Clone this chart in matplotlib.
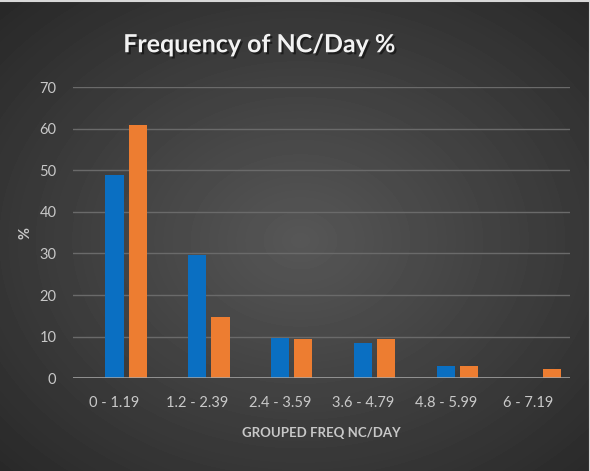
import numpy as np
import matplotlib
matplotlib.use("Agg")
import matplotlib.pyplot as plt
import matplotlib.patheffects as pe

categories = ["0 - 1.19", "1.2 - 2.39", "2.4 - 3.59", "3.6 - 4.79", "4.8 - 5.99", "6 - 7.19"]
blue_vals = [48.8, 29.7, 9.6, 8.5, 3.0, 0.0]
orange_vals = [61.0, 14.7, 9.4, 9.5, 3.0, 2.1]
y_ticks = [0, 10, 20, 30, 40, 50, 60, 70]

plt.rcParams['font.family'] = ['Lato', 'DejaVu Sans']

fig = plt.figure(figsize=(5.9, 4.71), dpi=100)

# radial gradient background
bg = fig.add_axes([0, 0, 1, 1])
yy, xx = np.mgrid[0:471, 0:590]
r = np.sqrt(((xx - 300) / 420.0) ** 2 + ((yy - 240) / 330.0) ** 2)
shade = np.clip(0.34 - 0.18 * r, 0.12, 0.36)
bg.imshow(shade, cmap="gray", vmin=0, vmax=1, aspect="auto", extent=[0, 1, 0, 1])
bg.set_axis_off()
bg.plot([0, 1, 1], [0.997, 0.997, 0], color="#d8d8d8", lw=1.5, transform=bg.transAxes)

ax = fig.add_axes([0.124, 0.197, 0.842, 0.618])
ax.patch.set_alpha(0)
x = np.arange(len(categories))
w = 0.22
ax.bar(x, blue_vals, w, color="#0a6fc2", zorder=3)
ax.bar(x + 0.28, orange_vals, w, color="#ed7d31", zorder=3)

ax.set_xlim(-0.5, 5.5)
ax.set_ylim(0, 70)
ax.set_yticks(y_ticks)
ax.set_xticks(x)
ax.set_xticklabels(categories)
ax.grid(axis="y", color="#6a6a6a", lw=1, zorder=0)
ax.axhline(0, color="#a8a8a8", lw=1.8, zorder=4)
for s in ax.spines.values():
    s.set_visible(False)
ax.tick_params(length=0, colors="#c8c8c8", labelsize=10.5)
ax.tick_params(axis="x", pad=13)
ax.tick_params(axis="y", pad=12)
ax.set_xlabel("GROUPED FREQ NC/DAY", color="#c8c8c8", fontsize=9.5, fontweight="bold", labelpad=12)
ax.set_ylabel("%", color="#c8c8c8", fontsize=10.5, fontweight="bold", labelpad=5)

fig.text(0.44, 0.905, "Frequency of NC/Day %", color="#f2f2f2", fontsize=18,
         fontweight="bold", ha="center", va="center",
         path_effects=[pe.withSimplePatchShadow(offset=(1.5, -1.5), shadow_rgbFace="#111111", alpha=0.7)])

fig.savefig("out.png", dpi=100)
